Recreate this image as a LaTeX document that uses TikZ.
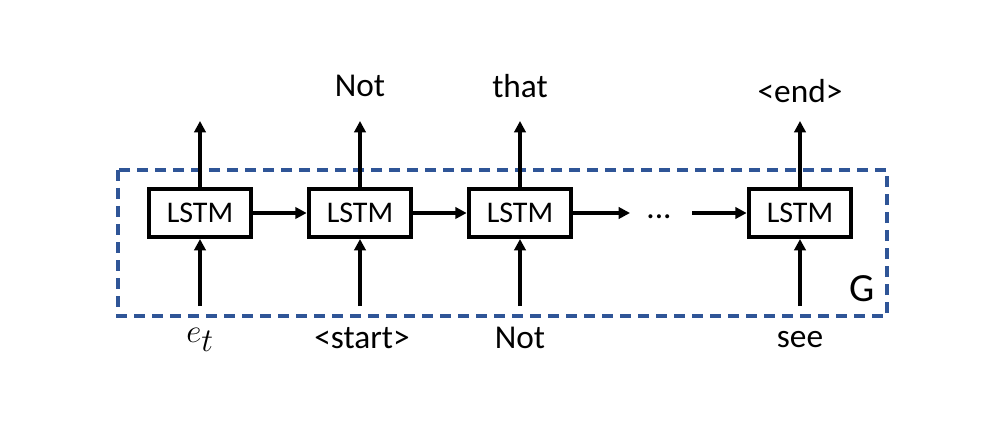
\documentclass[tikz,border=0pt]{standalone}
\usepackage{fontspec}
\setmainfont{Carlito}
\usetikzlibrary{arrows.meta}

\definecolor{gblue}{RGB}{47,85,151}
\tikzset{every picture/.style={line width=0.75pt}}
\tikzset{
	lstm/.style={draw, line width=3pt, inner sep=0pt, minimum width=77pt, minimum height=36pt, font=\fontsize{22.5}{27}\selectfont},
	arr/.style={line width=2.8pt, -{Triangle[length=8.5pt,width=8.5pt]}},
	word/.style={font=\fontsize{25}{30}\selectfont},
	gframe/.style={color=gblue, line width=2.8pt, dash pattern={on 8pt off 5.5pt}}}

\begin{document}
\begin{tikzpicture}[x=0.75pt,y=0.75pt,yscale=-1,xscale=1]
	\useasboundingbox (0,0) rectangle (996,442);

	%Shape: Rectangle [id:frameG]
	\draw [gframe] (118,170) rectangle (887,316) ;
	% Text Node
	\node [word, font=\fontsize{30}{36}\selectfont] (g) at (862,289) {G};

	% LSTM cells
	\node [lstm] (l1) at (200,213) {LSTM};
	\node [lstm] (l2) at (360,213) {LSTM};
	\node [lstm] (l3) at (520,213) {LSTM};
	\node [lstm] (l4) at (800,213) {LSTM};
	% Text Node
	\node [word] (dots) at (659,217) {...};

	% arrow ends
	\coordinate (o1) at (200,121);
	\coordinate (o2) at (360,121);
	\coordinate (o3) at (520,121);
	\coordinate (o4) at (800,121);
	\coordinate (i1) at (200,306);
	\coordinate (i2) at (360,306);
	\coordinate (i3) at (520,306);
	\coordinate (i4) at (800,306);
	\coordinate (d1) at (630,213);
	\coordinate (d2) at (692,213);

	%Straight Lines
	\draw [arr] (l1) -- (o1) ;
	\draw [arr] (l2) -- (o2) ;
	\draw [arr] (l3) -- (o3) ;
	\draw [arr] (l4) -- (o4) ;
	\draw [arr] (i1) -- (l1) ;
	\draw [arr] (i2) -- (l2) ;
	\draw [arr] (i3) -- (l3) ;
	\draw [arr] (i4) -- (l4) ;
	\draw [arr] (l1) -- (l2) ;
	\draw [arr] (l2) -- (l3) ;
	\draw [arr] (l3) -- (d1) ;
	\draw [arr] (d2) -- (l4) ;

	% Text Node
	\node [word] (out2) at (360,86) {Not};
	% Text Node
	\node [word] (out3) at (520,86) {that};
	% Text Node
	\node [word] (out4) at (800,91) {<end>};
	% Text Node
	\node [word, font=\fontsize{34}{40}\selectfont] (in1) at (200,340) {$e_t$};
	% Text Node
	\node [word] (in2) at (362,338) {<start>};
	% Text Node
	\node [word] (in3) at (520,338) {Not};
	% Text Node
	\node [word] (in4) at (800,340) {see};

\end{tikzpicture}
\end{document}
